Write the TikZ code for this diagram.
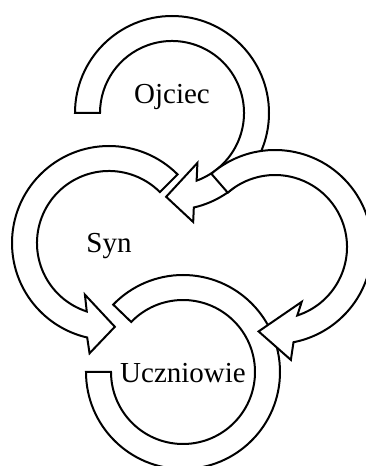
\documentclass[tikz,border=0pt]{standalone}
\usepackage{fontspec}
\setmainfont{Liberation Serif}
\begin{document}
\begin{tikzpicture}[x=1pt,y=1pt,
  band/.style={draw=black,fill=white,line width=2pt,line join=miter},
  label/.style={font=\fontsize{29}{32}\selectfont,anchor=base,inner sep=0pt}]
\useasboundingbox (0,0) rectangle (365,466);

% ring centres
\coordinate (cO) at (172,353);
\coordinate (cL) at (109,223);
\coordinate (cR) at (275,219);
\coordinate (cU) at (183,94);

% Ojciec: clockwise ring ending in a head pointing at Syn
\begin{scope}[shift={(cO)}]
  \draw[band] (180:97) arc[start angle=180,end angle=-77,radius=97]
    -- (-79:111) -- (-94:84) -- (-63:56) -- (-70:72)
    arc[start angle=-70,end angle=180,radius=72] -- cycle;
\end{scope}

% Uczniowie: open ring without head
\begin{scope}[shift={(cU)}]
  \draw[band] (180:97) arc[start angle=180,end angle=496,radius=97]
    -- (496:72) arc[start angle=496,end angle=180,radius=72] -- cycle;
\end{scope}

% Syn, left half: counter-clockwise towards Uczniowie
\begin{scope}[shift={(cL)}]
  \draw[band] (45:97) arc[start angle=45,end angle=257,radius=97]
    -- (260:112) -- (274:84) -- (245:57) -- (252:72)
    arc[start angle=252,end angle=45,radius=72] -- cycle;
\end{scope}

% Syn, right half: clockwise towards Uczniowie
\begin{scope}[shift={(cR)}]
  \draw[band] (131:97) arc[start angle=131,end angle=-79,radius=97]
    -- (-82:114) -- (-101:86) -- (-64:61) -- (-72:72)
    arc[start angle=-72,end angle=131,radius=72] -- cycle;
\end{scope}

% labels
\node[label] (ojciec) at (172,362) {Ojciec};
\node[label] (syn) at (109,213) {Syn};
\node[label] (uczniowie) at (183,83) {Uczniowie};
\end{tikzpicture}
\end{document}
